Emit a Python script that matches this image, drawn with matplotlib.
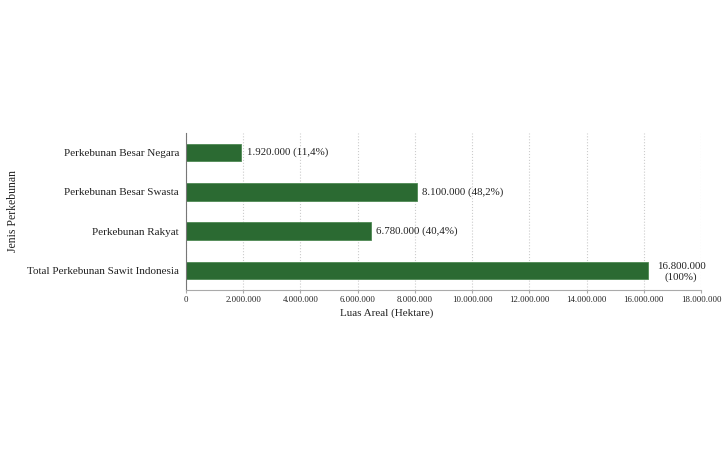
import matplotlib.pyplot as plt
from matplotlib.ticker import FuncFormatter

# data (bar lengths, labels as printed)
kategori = ["Total Perkebunan Sawit Indonesia", "Perkebunan Rakyat",
            "Perkebunan Besar Swasta", "Perkebunan Besar Negara"]
luas = [16150000, 6450000, 8060000, 1920000]
label_nilai = ["16.800.000\n(100%)", "6.780.000 (40,4%)",
               "8.100.000 (48,2%)", "1.920.000 (11,4%)"]
xticks = list(range(0, 18000001, 2000000))

plt.rcParams['font.family'] = ['Liberation Serif', 'DejaVu Serif']

fig = plt.figure(figsize=(7.28, 4.5), dpi=100)
ax = fig.add_axes([186/728, 1-290/450, (701-186)/728, (290-133)/450])

pos = range(len(kategori))
ax.barh(pos, luas, height=0.45, color="#2b6a32", edgecolor="#4f8a55", linewidth=0.6)

for i, (v, t) in enumerate(zip(luas, label_nilai)):
    if "\n" in t:
        ax.text(v + 1150000, i - 0.03, t, va="center", ha="center", fontsize=7.8,
                color="#222222", linespacing=1.2)
    else:
        ax.text(v + 200000, i, t, va="center", ha="left", fontsize=7.8, color="#222222")

ax.set_yticks(list(pos))
ax.set_yticklabels(kategori, fontsize=8, color="#222222")
ax.set_xticks(xticks)
ax.xaxis.set_major_formatter(FuncFormatter(lambda x, p: f"{int(x):,}".replace(",", ".")))
ax.tick_params(axis="x", labelsize=6.3, colors="#222222", length=2, color="#aaaaaa", pad=2)
ax.tick_params(axis="y", length=0, pad=5)
ax.set_xlim(0, 18000000)
ax.set_ylim(-0.5, 3.5)

ax.grid(axis="x", linestyle=":", color="#cccccc", linewidth=0.8)
ax.set_axisbelow(True)
for s in ["top", "right"]:
    ax.spines[s].set_visible(False)
ax.spines["left"].set_color("#777777")
ax.spines["bottom"].set_color("#aaaaaa")

ax.set_xlabel("Luas Areal (Hektare)", fontsize=8, color="#222222")
ax.xaxis.set_label_coords((387-186)/(701-186), -0.12)
ax.set_ylabel("Jenis Perkebunan", fontsize=8.5, color="#222222")
ax.yaxis.set_label_coords(-(186-19)/(701-186), 0.5)

fig.savefig("out.png", dpi=100, facecolor="white")
